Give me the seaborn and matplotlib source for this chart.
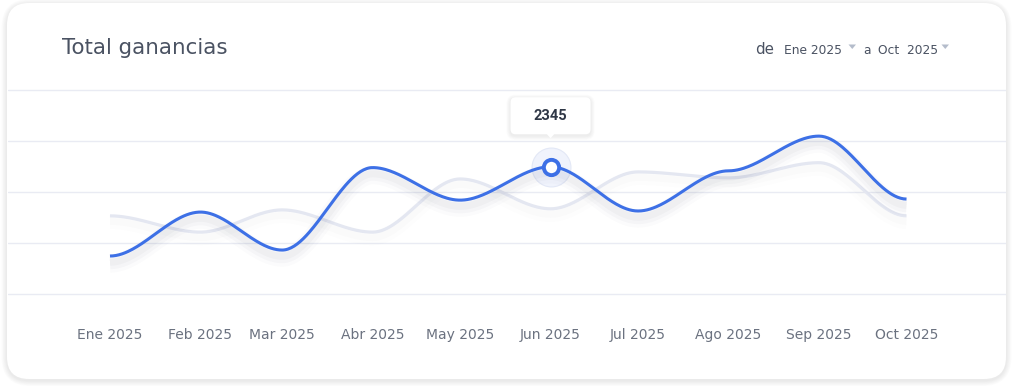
import numpy as np
import pandas as pd
import matplotlib
matplotlib.use("Agg")
import matplotlib.pyplot as plt
import matplotlib.patheffects as pe
from matplotlib.patches import FancyBboxPatch, Polygon
from matplotlib.transforms import IdentityTransform
import seaborn as sns

# ---------------- data ----------------
month_labels = ["Ene 2025", "Feb 2025", "Mar 2025", "Abr 2025", "May 2025",
                "Jun 2025", "Jul 2025", "Ago 2025", "Sep 2025", "Oct 2025"]
month_dates = ["2025-01-01", "2025-02-01", "2025-03-01", "2025-04-01", "2025-05-01",
               "2025-06-01", "2025-07-01", "2025-08-01", "2025-09-01", "2025-10-01"]
ganancias = [700, 1510, 810, 2330, 1730, 2345, 1530, 2270, 2910, 1750]
referencia = [1440, 1140, 1550, 1140, 2120, 1570, 2250, 2140, 2420, 1440]
highlight_index = 5
grid_values = [0, 940, 1880, 2820, 3760]
title_text = "Total ganancias"
range_from = "Ene 2025"
range_to = "Oct  2025"

# ---------------- styling ----------------
W, H, DPI = 1015, 390, 100
BLUE = "#3d70e6"
GRAY_LINE = "#e4e7f1"
GRID = "#e9ebf3"
TEXT_DARK = "#4a5262"
TICK = "#6b7280"

sns.set_style("white")
plt.rcParams["font.family"] = ["DejaVu Sans"]

fig = plt.figure(figsize=(W / DPI, H / DPI), dpi=DPI, facecolor="white")

# card shadow + card
cx, cy, cw, ch = 7, H - 379, 999, 376
for i in range(7, 0, -1):
    fig.add_artist(FancyBboxPatch((cx - i * 0.8, cy - i * 0.8 - 1.5), cw + i * 1.6, ch + i * 1.6,
                                  boxstyle=f"round,pad=0,rounding_size={22 + i}",
                                  fc="black", ec="none", alpha=0.010,
                                  transform=IdentityTransform(), zorder=-3))
fig.add_artist(FancyBboxPatch((cx, cy), cw, ch, boxstyle="round,pad=0,rounding_size=22",
                              fc="white", ec="none", transform=IdentityTransform(), zorder=-2))

# axes
ax_left, ax_right, ax_top, ax_bottom = 8, 1006, 80, 300
ax = fig.add_axes([ax_left / W, 1 - ax_bottom / H, (ax_right - ax_left) / W, (ax_bottom - ax_top) / H])
ax.set_facecolor("none")

dates = pd.to_datetime(month_dates)
days = np.array((dates - dates[0]).days, dtype=float)


def smooth(xv, yv, n=60):
    xs, ys = [], []
    for i in range(len(xv) - 1):
        t = np.linspace(0, 1, n, endpoint=(i == len(xv) - 2))
        s = 3 * t ** 2 - 2 * t ** 3
        xs.append(xv[i] + (xv[i + 1] - xv[i]) * t)
        ys.append(yv[i] + (yv[i + 1] - yv[i]) * s)
    return np.concatenate(xs), np.concatenate(ys)


gx, gy = smooth(days, np.array(referencia, float))
bx, by = smooth(days, np.array(ganancias, float))

SH = "#1b2440"
shadow_gray = [pe.SimpleLineShadow(offset=(0, -4.5), shadow_color=SH, alpha=0.009, linewidth=10),
               pe.SimpleLineShadow(offset=(0, -4), shadow_color=SH, alpha=0.011, linewidth=5),
               pe.Normal()]
shadow_blue = [pe.SimpleLineShadow(offset=(0, -5.5), shadow_color=SH, alpha=0.015, linewidth=13),
               pe.SimpleLineShadow(offset=(0, -5), shadow_color=SH, alpha=0.022, linewidth=9),
               pe.SimpleLineShadow(offset=(0, -4.5), shadow_color=SH, alpha=0.028, linewidth=5),
               pe.Normal()]

sns.lineplot(x=gx, y=gy, ax=ax, color=GRAY_LINE, linewidth=2.3, sort=False,
             path_effects=shadow_gray, zorder=3, solid_capstyle="butt")
sns.lineplot(x=bx, y=by, ax=ax, color=BLUE, linewidth=2.2, sort=False,
             path_effects=shadow_blue, zorder=4, solid_capstyle="butt")

# highlighted point
hx, hy = days[highlight_index], ganancias[highlight_index]
ax.plot([hx], [hy], "o", ms=28, mfc="#f0f3fc", mec="#e3e8f6", mew=0.8, zorder=3.5)
ax.plot([hx], [hy], "o", ms=11, mfc="white", mec=BLUE, mew=2.8, zorder=5)

# scales (data positions follow the drawn line: Ene at ~110 px, Oct at ~906 px)
x_first_px, x_last_px = 110.0, 906.5
px_per_day = (x_last_px - x_first_px) / days[-1]
ax.set_xlim(-(x_first_px - ax_left) / px_per_day, days[-1] + (ax_right - x_last_px) / px_per_day)
units_per_px = (grid_values[1] - grid_values[0]) / 51.0
ax.set_ylim(-(ax_bottom - 294) * units_per_px, (294 - ax_top) * units_per_px)
ax.set_yticks(grid_values)
ax.set_yticklabels([])
ax.set_xticks(days)
ax.set_xticklabels(month_labels, fontsize=10, color=TICK)
ax.tick_params(axis="both", length=0)
ax.tick_params(axis="x", pad=20.5)
ax.grid(axis="y", color=GRID, linewidth=1)
ax.grid(axis="x", visible=False)
for s in ax.spines.values():
    s.set_visible(False)

# tooltip
fig.canvas.draw()
dx, dy = ax.transData.transform((hx, hy))
tw, th = 80, 37
tx, ty = dx - tw / 2, dy + 51 - th / 2
for i in range(6, 0, -1):
    fig.add_artist(FancyBboxPatch((tx - i * 0.7, ty - i * 0.7 - 1.5), tw + i * 1.4, th + i * 1.4,
                                  boxstyle=f"round,pad=0,rounding_size={5 + i * 0.7}",
                                  fc="black", ec="none", alpha=0.010,
                                  transform=IdentityTransform(), zorder=8))
fig.add_artist(FancyBboxPatch((tx, ty), tw, th, boxstyle="round,pad=0,rounding_size=5",
                              fc="white", ec="none", transform=IdentityTransform(), zorder=9))
fig.add_artist(Polygon([[dx - 4, ty + 0.5], [dx + 4, ty + 0.5], [dx, ty - 4]], closed=True,
                       fc="white", ec="none", transform=IdentityTransform(), zorder=9))
fig.text(dx / W, (dy + 51) / H, f"{hy}", ha="center", va="center", fontsize=10.5,
         fontweight="bold", color="#2f3746", family=["Roboto", "DejaVu Sans"], zorder=10)

# title and range selector
fig.text(62 / W, 1 - 54 / H, title_text, fontsize=15.4, color=TEXT_DARK, ha="left", va="baseline")
fig.text(755 / W, 1 - 54.5 / H, "de", fontsize=10.8, color=TEXT_DARK, ha="left", va="baseline")
fig.text(784 / W, 1 - 54.5 / H, range_from, fontsize=8.8, color=TEXT_DARK, ha="left", va="baseline")
fig.text(863 / W, 1 - 54.5 / H, "a", fontsize=8.8, color=TEXT_DARK, ha="left", va="baseline")
fig.text(878 / W, 1 - 54.5 / H, range_to, fontsize=8.8, color=TEXT_DARK, ha="left", va="baseline")
for x0 in (848.5, 941.5):
    fig.add_artist(Polygon([[x0, H - 44.5], [x0 + 7.5, H - 44.5], [x0 + 3.75, H - 49]], closed=True,
                           fc="#b4bccb", ec="none", transform=IdentityTransform(), zorder=5))

fig.savefig("out.png", dpi=DPI, facecolor="white")
